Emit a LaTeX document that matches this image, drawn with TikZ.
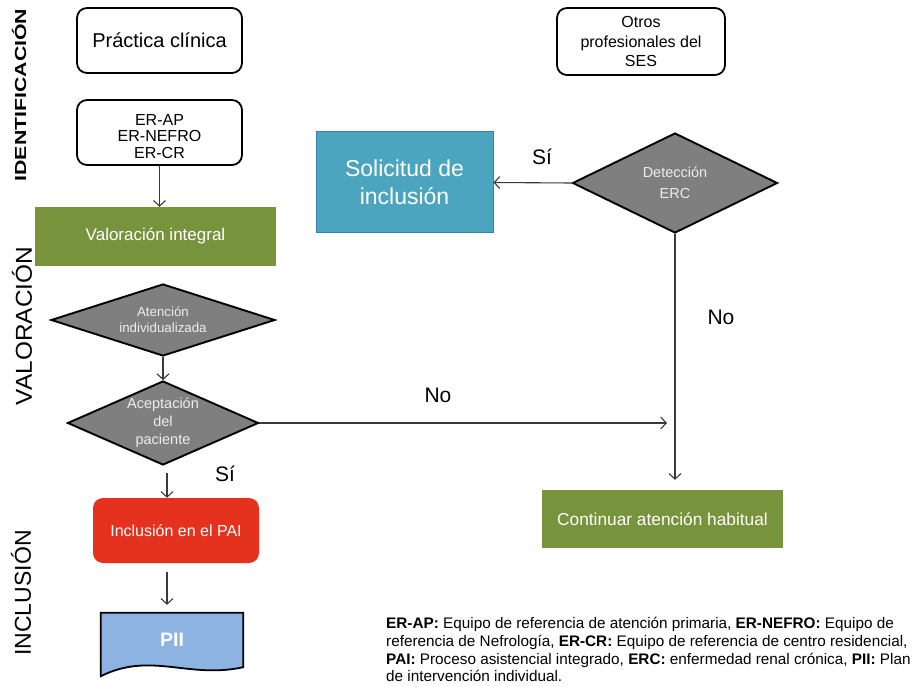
\documentclass[tikz,border=0pt]{standalone}
\usepackage{fontspec}
\setmainfont{Liberation Sans}
\usetikzlibrary{shapes.geometric,arrows.meta,backgrounds}
\definecolor{verde}{HTML}{77933C}
\definecolor{gris}{HTML}{7F7F7F}
\definecolor{turquesa}{HTML}{4BA5BF}
\definecolor{turqborde}{HTML}{3A7FB0}
\definecolor{rojo}{HTML}{E4321F}
\definecolor{azulpii}{HTML}{8DB3E2}
\definecolor{flecha}{HTML}{3A3A3A}
\newcommand\fs[2]{\fontsize{#1}{#2}\selectfont}
\begin{document}
\begin{tikzpicture}[x=1pt,y=-1pt,
  caja/.style={draw=black, line width=1.8pt, rounded corners=10pt, fill=white,
    align=center, inner sep=0pt},
  barra/.style={fill=verde, text=white, inner sep=0pt},
  decision/.style={diamond, draw=black, line width=1.9pt, fill=gris,
    text=white!93!black, align=center, inner sep=0pt},
  flechaN/.style={draw=flecha, line width=1.1pt,
    -{Straight Barb[length=5.5pt,width=12pt]}},
  etiqueta/.style={font=\fs{21}{21}},
  fase/.style={rotate=90, font=\fs{23}{23}},
]
\useasboundingbox (0,0) rectangle (921,687);

% phase labels down the left margin
\node[fase, font=\bfseries\fs{16}{16}] (fid) at (19,95) {\scalebox{1.33}[1]{IDENTIFICACIÓN}};
\node[fase] (fval) at (22,326) {\scalebox{1.06}[1]{VALORACIÓN}};
\node[fase] (finc) at (21,593) {INCLUSIÓN};

% left column
\node[caja, minimum width=165pt, minimum height=65pt, font=\fs{20}{24}] (pc) at (159.5,40.5) {Práctica clínica};
\node[caja, minimum width=165pt, minimum height=65pt, font=\fs{16}{16.5}] (er) at (159.5,132.5)
  {\raisebox{-6pt}[\height][\depth]{\begin{tabular}{@{}c@{}}ER-AP\\ER-NEFRO\\ER-CR\end{tabular}}};
\node[barra, minimum width=241pt, minimum height=59pt, font=\fs{17}{20}] (vi) at (155.5,236.5) {Valoración integral};
\node[decision, minimum width=224pt, minimum height=72pt, shape aspect=3, font=\fs{13.3}{16}] (d1) at (163,320) {Atención\\individualizada};
\node[decision, minimum width=191pt, minimum height=84pt, shape aspect=2.3, font=\fs{14.5}{18}] (d2) at (163,423) {Aceptación\\del\\paciente};
\node[fill=rojo, rounded corners=10pt, text=white, minimum width=166pt, minimum height=65pt, inner sep=0pt, font=\fs{16}{18}] (inc) at (176,530.5) {Inclusión en el PAI};
\node[minimum width=142pt, minimum height=54pt, inner sep=0pt, text=white, font=\bfseries\fs{19.5}{20}] (pii) at (172,640) {PII};
\begin{scope}[on background layer]
  \draw[line width=1.8pt, fill=azulpii] (pii.north west) -- (pii.north east) -- (pii.south east)
    .. controls ([xshift=-55pt,yshift=-12pt]pii.south east) and ([xshift=50pt,yshift=16pt]pii.south west)
    .. ([yshift=-9pt]pii.south west) -- cycle;
\end{scope}

% right column
\node[caja, minimum width=168pt, minimum height=67pt, font=\fs{16}{19.5}] (otros) at (641,41.5) {Otros\\profesionales del\\SES};
\node[fill=turquesa, draw=turqborde, line width=1pt, minimum width=177pt, minimum height=101pt, text=white, align=center, inner sep=0pt, font=\fs{23}{28}] (sol) at (404.5,182.5) {Solicitud de\\inclusión};
\node[decision, minimum width=205pt, minimum height=100pt, shape aspect=2, font=\fs{14.5}{21}] (d3) at (675,183) {Detección\\ERC};
\node[barra, minimum width=241pt, minimum height=58pt, font=\fs{17.3}{20}] (cont) at (662.5,519) {Continuar atención habitual};

% connectors
\draw[flechaN] (er.south) -- (er.south |- vi.north);
\draw[flechaN] (d1.south) -- (d2.north);
\draw[flechaN, shorten <=7pt] ([xshift=4pt]d2.south) -- ([xshift=-9pt]inc.north);
\draw[flechaN, shorten <=9pt, shorten >=8pt] ([xshift=-9pt]inc.south) -- ([xshift=-9pt]inc.south |- pii.north);
\draw[flechaN] (d3.west) -- (sol.east);
\draw[flechaN, shorten >=10pt] (d3.south) -- (d3.south |- cont.north);
\draw[flechaN] (d2.east) -- ([xshift=-8pt]d2.east -| d3.south);

% branch labels
\node[etiqueta] (si1) at (542,157) {Sí};
\node[etiqueta] (no1) at (721,317) {No};
\node[etiqueta] (no2) at (438,395) {No};
\node[etiqueta] (si2) at (225,474) {Sí};

% abbreviations
\node[anchor=north west, align=left, inner sep=0pt, font=\fs{15.3}{17.8}] (nota) at (386,617)
  {\textbf{ER-AP:} Equipo de referencia de atención primaria, \textbf{ER-NEFRO:} Equipo de\\
   referencia de Nefrología, \textbf{ER-CR:} Equipo de referencia de centro residencial,\\
   \textbf{PAI:} Proceso asistencial integrado, \textbf{ERC:} enfermedad renal crónica, \textbf{PII:} Plan\\
   de intervención individual.};
\end{tikzpicture}
\end{document}
